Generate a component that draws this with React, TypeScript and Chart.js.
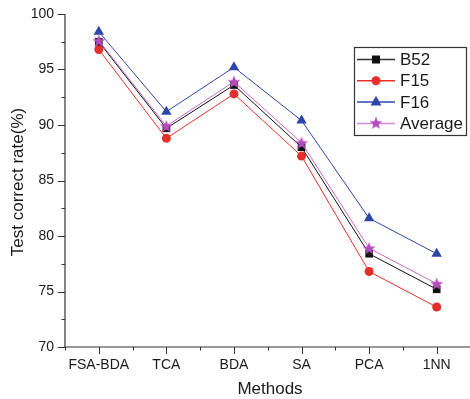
import React, { useEffect, useRef } from "react";
import { Chart, registerables } from "chart.js";

Chart.register(...registerables);

const methods = ["FSA-BDA", "TCA", "BDA", "SA", "PCA", "1NN"];
const b52 = [97.5, 89.7, 93.6, 88.0, 78.4, 75.2];
const f15 = [96.8, 88.8, 92.8, 87.2, 76.8, 73.6];
const f16 = [98.4, 91.2, 95.2, 90.4, 81.6, 78.4];
const average = [97.6, 89.9, 93.9, 88.4, 78.9, 75.7];
const yTicks = [70, 75, 80, 85, 90, 95, 100];

const FONT = "'Liberation Sans', Arial, sans-serif";
const C_B52 = "#111111";
const C_F15 = "#e4302a";
const C_F16 = "#2e46a8";
const C_AVG = "#b44cbc";
const C_AVG_LINE = "#c866cc";

function makeStar(): HTMLCanvasElement {
  const c = document.createElement("canvas");
  const s = 14;
  c.width = s;
  c.height = s;
  const ctx = c.getContext("2d")!;
  const cx = s / 2, cy = s / 2 + 0.6, ro = 6.8, ri = 2.8;
  ctx.beginPath();
  for (let i = 0; i < 10; i++) {
    const r = i % 2 === 0 ? ro : ri;
    const a = -Math.PI / 2 + (i * Math.PI) / 5;
    const x = cx + r * Math.cos(a);
    const y = cy + r * Math.sin(a);
    if (i === 0) ctx.moveTo(x, y);
    else ctx.lineTo(x, y);
  }
  ctx.closePath();
  ctx.fillStyle = C_AVG;
  ctx.fill();
  return c;
}

export default function App() {
  const ref = useRef<HTMLCanvasElement | null>(null);

  useEffect(() => {
    if (!ref.current) return;
    const star = makeStar();

    const toXY = (arr: number[]) => arr.map((v, i) => ({ x: i, y: v }));

    const axesPlugin = {
      id: "axesPlugin",
      afterDraw(chart: any) {
        const ctx = chart.ctx as CanvasRenderingContext2D;
        const xs = chart.scales.x;
        const ys = chart.scales.y;
        const left = xs.left;
        const right = chart.width;
        const top = ys.getPixelForValue(100);
        const bottom = ys.getPixelForValue(70);
        ctx.save();
        ctx.strokeStyle = "#333333";
        ctx.lineWidth = 1.2;
        ctx.beginPath();
        ctx.moveTo(left, top);
        ctx.lineTo(left, bottom);
        ctx.lineTo(right, bottom);
        ctx.stroke();
        ctx.lineWidth = 1;
        for (let v = 70; v <= 100; v += 2.5) {
          const y = Math.round(ys.getPixelForValue(v)) + 0.5;
          const major = v % 5 === 0;
          ctx.beginPath();
          ctx.moveTo(left, y);
          ctx.lineTo(left - (major ? 7 : 3.5), y);
          ctx.stroke();
        }
        for (let v = -0.5; v <= 5.5; v += 0.5) {
          const x = Math.round(xs.getPixelForValue(v)) + 0.5;
          if (x > right) break;
          const major = Math.abs(v - Math.round(v)) < 1e-6;
          ctx.beginPath();
          ctx.moveTo(x, bottom);
          ctx.lineTo(x, bottom + (major ? 7 : 3.5));
          ctx.stroke();
        }

        ctx.fillStyle = "#1a1a1a";
        ctx.font = `17px ${FONT}`;
        ctx.textAlign = "center";
        ctx.textBaseline = "middle";
        ctx.fillText("Methods", 270, 389);
        ctx.save();
        ctx.translate(18, 182);
        ctx.rotate(-Math.PI / 2);
        ctx.fillText("Test correct rate(%)", 0, 0);
        ctx.restore();

        const lx = 354.5, ly = 47.5, lw = 112, lh = 88;
        ctx.fillStyle = "#ffffff";
        ctx.fillRect(lx, ly, lw, lh);
        ctx.strokeStyle = "#333333";
        ctx.lineWidth = 1.2;
        ctx.strokeRect(lx, ly, lw, lh);
        const items = [
          { label: "B52", line: "#333333", kind: "square", color: C_B52 },
          { label: "F15", line: C_F15, kind: "circle", color: C_F15 },
          { label: "F16", line: C_F16, kind: "triangle", color: C_F16 },
          { label: "Average", line: "#d58ed8", kind: "star", color: C_AVG },
        ];
        items.forEach((it, i) => {
          const cy = 59.5 + i * 21.3;
          ctx.strokeStyle = it.line;
          ctx.lineWidth = 1.5;
          ctx.beginPath();
          ctx.moveTo(357, cy);
          ctx.lineTo(395, cy);
          ctx.stroke();
          ctx.fillStyle = it.color;
          const mx = 376;
          if (it.kind === "square") {
            ctx.fillRect(mx - 4, cy - 4, 8, 8);
          } else if (it.kind === "circle") {
            ctx.beginPath();
            ctx.arc(mx, cy, 4.5, 0, Math.PI * 2);
            ctx.fill();
          } else if (it.kind === "triangle") {
            ctx.beginPath();
            ctx.moveTo(mx, cy - 6);
            ctx.lineTo(mx + 5.5, cy + 3.5);
            ctx.lineTo(mx - 5.5, cy + 3.5);
            ctx.closePath();
            ctx.fill();
          } else {
            ctx.drawImage(star, mx - 7, cy - 7.6);
          }
          ctx.fillStyle = "#1a1a1a";
          ctx.font = `17px ${FONT}`;
          ctx.textAlign = "left";
          ctx.textBaseline = "middle";
          ctx.fillText(it.label, 400, cy + 1);
        });
        ctx.restore();
      },
    };

    const chart = new Chart(ref.current, {
      type: "line",
      data: {
        datasets: [
          {
            label: "B52",
            data: toXY(b52),
            borderColor: C_B52,
            backgroundColor: C_B52,
            pointStyle: "rect",
            pointRadius: 5.4,
            borderWidth: 1,
            pointBorderWidth: 0,
            order: 1,
          },
          {
            label: "F15",
            data: toXY(f15),
            borderColor: C_F15,
            backgroundColor: C_F15,
            pointStyle: "circle",
            pointRadius: 4.5,
            borderWidth: 1,
            pointBorderWidth: 0,
            order: 3,
          },
          {
            label: "F16",
            data: toXY(f16),
            borderColor: C_F16,
            backgroundColor: C_F16,
            pointStyle: "triangle",
            pointRadius: 6,
            borderWidth: 1,
            pointBorderWidth: 0,
            order: 2,
          },
          {
            label: "Average",
            data: toXY(average),
            borderColor: C_AVG_LINE,
            backgroundColor: C_AVG,
            pointStyle: star as any,
            pointRadius: 6,
            borderWidth: 1,
            pointBorderWidth: 0,
            order: 0,
          },
        ],
      },
      options: {
        responsive: false,
        animation: false,
        clip: false as any,
        layout: { padding: { top: 14, right: 0, left: 0, bottom: 0 } },
        plugins: {
          legend: { display: false },
          tooltip: { enabled: false },
        },
        elements: { line: { tension: 0 } },
        scales: {
          x: {
            type: "linear",
            min: -0.5,
            max: 5.404,
            afterBuildTicks: (s: any) => {
              s.ticks = methods.map((_, i) => ({ value: i }));
            },
            afterFit: (s: any) => {
              s.height = 52;
              s.paddingLeft = 0;
              s.paddingRight = 0;
            },
            grid: { display: true, drawOnChartArea: false, drawTicks: false, color: "rgba(0,0,0,0)" },
            border: { display: false },
            ticks: {
              autoSkip: false,
              maxRotation: 0,
              padding: 10,
              color: "#1a1a1a",
              font: { family: FONT, size: 14 },
              callback: (v: any) => methods[Math.round(Number(v))] ?? "",
            },
          },
          y: {
            type: "linear",
            min: 70,
            max: 100,
            afterBuildTicks: (s: any) => {
              s.ticks = yTicks.map((v) => ({ value: v }));
            },
            afterFit: (s: any) => {
              s.width = 65;
              s.paddingTop = 0;
              s.paddingBottom = 0;
            },
            grid: { display: true, drawOnChartArea: false, drawTicks: false, color: "rgba(0,0,0,0)" },
            border: { display: false },
            ticks: {
              padding: 11,
              color: "#1a1a1a",
              font: { family: FONT, size: 14 },
            },
          },
        },
      },
      plugins: [axesPlugin],
    });

    return () => chart.destroy();
  }, []);

  return (
    <div style={{ position: "absolute", left: 0, top: 0, width: 470, height: 399, background: "#fff" }}>
      <canvas ref={ref} width={470} height={399} style={{ display: "block" }} />
    </div>
  );
}
